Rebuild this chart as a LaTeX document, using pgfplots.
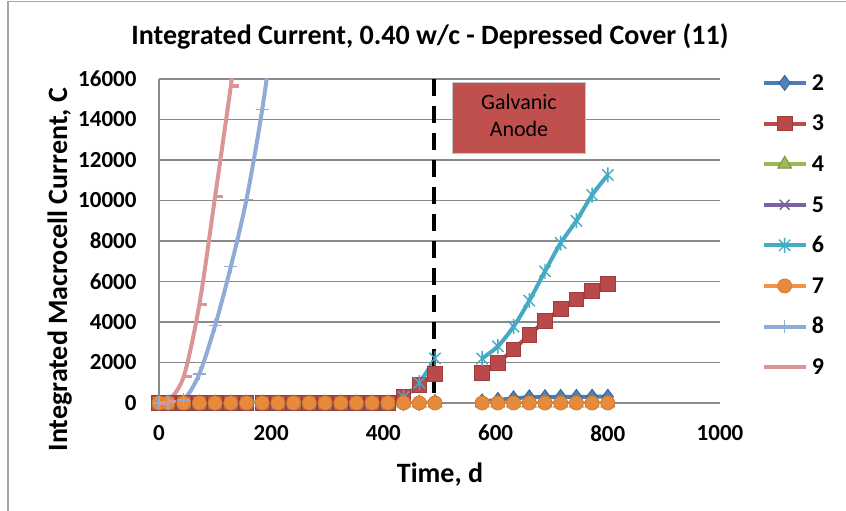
\documentclass[border=0pt]{standalone}
\usepackage{fontspec}
\setmainfont{Carlito}
\usepackage{pgfplots}
\pgfplotsset{compat=1.18}
\definecolor{gridgray}{HTML}{8A8A8A}
\definecolor{framegray}{HTML}{A6A6A6}
\definecolor{c2}{HTML}{4A7EBB}\definecolor{c2f}{HTML}{4F81BD}\definecolor{c2d}{HTML}{385D8A}
\definecolor{c3}{HTML}{BE4B48}\definecolor{c3f}{HTML}{B9494A}\definecolor{c3d}{HTML}{9A3D3B}
\definecolor{c4}{HTML}{98B954}\definecolor{c4f}{HTML}{9BBB59}\definecolor{c4d}{HTML}{71893F}
\definecolor{c5}{HTML}{7D60A0}
\definecolor{c6}{HTML}{46AAC5}
\definecolor{c7}{HTML}{F29447}\definecolor{c7f}{HTML}{E88A3C}\definecolor{c7d}{HTML}{D27C35}
\definecolor{c8}{HTML}{91ABD8}
\definecolor{c9}{HTML}{D99694}
\definecolor{anode}{HTML}{C0504D}
\pgfdeclareplotmark{rdash}{%
  \pgfpathmoveto{\pgfqpoint{0pt}{0pt}}%
  \pgfpathlineto{\pgfqpoint{2\pgfplotmarksize}{0pt}}%
  \pgfusepathqstroke}
\pgfdeclareplotmark{xstar}{%
  \pgfpathmoveto{\pgfqpoint{-.75\pgfplotmarksize}{-.75\pgfplotmarksize}}%
  \pgfpathlineto{\pgfqpoint{.75\pgfplotmarksize}{.75\pgfplotmarksize}}%
  \pgfpathmoveto{\pgfqpoint{-.75\pgfplotmarksize}{.75\pgfplotmarksize}}%
  \pgfpathlineto{\pgfqpoint{.75\pgfplotmarksize}{-.75\pgfplotmarksize}}%
  \pgfpathmoveto{\pgfqpoint{0pt}{-\pgfplotmarksize}}%
  \pgfpathlineto{\pgfqpoint{0pt}{\pgfplotmarksize}}%
  \pgfusepathqstroke}
\pgfplotsset{
  s2/.style={color=c2, line width=4pt, smooth, mark=diamond*, mark size=7.5pt, mark options={solid, fill=c2f, draw=c2d, line width=0.8pt}},
  s3/.style={color=c3, line width=4pt, smooth, mark=square*, mark size=7.3pt, mark options={solid, fill=c3f, draw=c3d, line width=0.8pt}},
  s4/.style={color=c4, line width=4pt, smooth, mark=triangle*, mark size=8pt, mark options={solid, fill=c4f, draw=c4d, line width=0.8pt}},
  s5/.style={color=c5, line width=4pt, smooth, mark=x, mark size=7pt, mark options={solid, draw=c5, line width=1.4pt}},
  s6/.style={color=c6, line width=4pt, smooth, mark=xstar, mark size=7.5pt, mark options={solid, draw=c6, line width=1.4pt}},
  s7/.style={color=c7, line width=4pt, smooth, mark=*, mark size=7pt, mark options={solid, fill=c7f, draw=c7d, line width=0.8pt}},
  s8/.style={color=c8, line width=4pt, smooth, mark=+, mark size=6.5pt, mark options={solid, draw=c8, line width=1.4pt}},
  s9/.style={color=c9, line width=4pt, smooth, mark=rdash, mark size=4pt, mark options={solid, draw=c9, line width=3.2pt}},
}
\begin{document}
\begin{tikzpicture}[x=1pt,y=1pt]
\useasboundingbox (0,0) rectangle (846,511);
\draw[framegray, line width=1.2pt] (8,0) -- (8,509.5) -- (846,509.5);
\begin{axis}[
  at={(159pt,108pt)}, anchor=south west, scale only axis,
  width=561pt, height=324pt,
  xmin=0, xmax=1000, ymin=0, ymax=16000,
  xtick={0,200,400,600,800,1000},
  ytick={0,2000,4000,6000,8000,10000,12000,14000,16000},
  scaled x ticks=false, scaled y ticks=false,
  /pgf/number format/.cd, 1000 sep={}, assume math mode=true, /pgfplots/.cd,
  axis x line*=bottom, axis y line*=left,
  axis line style={-, draw=gridgray, line width=1.2pt},
  major tick length=0pt, tick style={draw=none},
  ymajorgrids, grid style={draw=gridgray, line width=1.2pt},
  ticklabel style={font=\fontsize{23}{23}\selectfont\bfseries, inner sep=0pt},
  xticklabel style={anchor=north, yshift=-22pt},
  yticklabel style={anchor=east, xshift=-22.3pt},
  legend style={at={(axis description cs:1.0743,1.0154)}, anchor=north west,
    draw=none, fill=none, inner sep=0pt, row sep=20.6pt, column sep=0pt,
    font=\fontsize{24}{24}\selectfont\bfseries,
    nodes={inner xsep=4.5pt, inner ysep=0pt, text height=16pt, text depth=4pt, anchor=base west},
    cells={anchor=west}},
  legend image code/.code={\draw[mark repeat=2, mark phase=2, #1] plot coordinates {(0pt,7.3pt) (20.8pt,7.3pt) (41.6pt,7.3pt)};},
]
% series 2
\addplot[s2] coordinates {(0,0)(16,0)(44,0)(72,0)(100,0)(128,0)(156,0)(184,0)(212,0)(240,0)(268,0)(296,0)(324,0)(352,0)(380,0)(408,0)(436,0)(464,0)(492,40)};
\addlegendentry{2}
\addplot[s2, forget plot] coordinates {(576,80)(604,150)(632,230)(660,280)(688,290)(716,300)(744,300)(772,310)(800,310)};
% series 3
\addplot[s3] coordinates {(0,0)(16,0)(44,0)(72,0)(100,0)(128,0)(156,0)(184,0)(212,0)(240,0)(268,0)(296,0)(324,0)(352,0)(380,0)(408,0)(436,300)(464,900)(492,1450)};
\addlegendentry{3}
\addplot[s3, forget plot] coordinates {(576,1500)(604,1990)(632,2650)(660,3360)(688,4050)(716,4640)(744,5120)(772,5550)(800,5880)};
% series 4
\addplot[s4] coordinates {(0,0)(16,0)(44,0)(72,0)(100,0)(128,0)(156,0)(184,0)(212,0)(240,0)(268,0)(296,0)(324,0)(352,0)(380,0)(408,0)(436,0)(464,0)(492,0)};
\addlegendentry{4}
\addplot[s4, forget plot] coordinates {(576,0)(604,0)(632,0)(660,0)(688,0)(716,0)(744,0)(772,0)(800,0)};
% series 5
\addplot[s5] coordinates {(0,0)(16,0)(44,0)(72,0)(100,0)(128,0)(156,0)(184,0)(212,0)(240,0)(268,0)(296,0)(324,0)(352,0)(380,0)(408,0)(436,0)(464,0)(492,0)};
\addlegendentry{5}
\addplot[s5, forget plot] coordinates {(576,0)(604,0)(632,0)(660,0)(688,0)(716,0)(744,0)(772,0)(800,0)};
% series 6
\addplot[s6] coordinates {(0,0)(16,0)(44,0)(72,0)(100,0)(128,0)(156,0)(184,0)(212,0)(240,0)(268,0)(296,0)(324,0)(352,0)(380,0)(408,0)(436,300)(464,1000)(492,2200)};
\addlegendentry{6}
\addplot[s6, forget plot] coordinates {(576,2200)(604,2800)(632,3770)(660,5050)(688,6500)(716,7900)(744,9000)(772,10270)(800,11260)};
% series 7
\addplot[s7] coordinates {(0,0)(16,0)(44,0)(72,0)(100,0)(128,0)(156,0)(184,0)(212,0)(240,0)(268,0)(296,0)(324,0)(352,0)(380,0)(408,0)(436,0)(464,0)(492,0)};
\addlegendentry{7}
\addplot[s7, forget plot] coordinates {(576,0)(604,0)(632,0)(660,0)(688,0)(716,0)(744,0)(772,0)(800,0)};
% series 8
\addplot[s8] coordinates {(0,0)(16,20)(44,150)(72,1440)(100,3820)(128,6730)(156,10060)(184,14500)(212,20000)};
\addlegendentry{8}
% series 9
\addplot[s9] coordinates {(0,0)(16,80)(44,1300)(72,4870)(100,10190)(128,15650)(156,21500)};
\addlegendentry{9}
% galvanic anode marker line
\addplot[black, line width=4.5pt, dash pattern=on 17pt off 10pt, forget plot] coordinates {(490,16000)(490,0)};
\end{axis}
\node[draw=gray!45, line width=0.8pt, fill=anode, minimum width=133pt, minimum height=71pt, inner sep=0pt] at (519,392.7) {};
\node[font=\fontsize{22}{26.7}\selectfont, inner sep=0pt, anchor=base] at (519,401) {Galvanic};
\node[font=\fontsize{22}{26.7}\selectfont, inner sep=0pt, anchor=base] at (519,374.3) {Anode};
\node[font=\fontsize{28}{28}\selectfont\bfseries, anchor=base, inner sep=0pt] at (430,466) {Integrated Current, 0.40 w/c - Depressed Cover (11)};
\node[font=\fontsize{28}{28}\selectfont\bfseries, anchor=base, inner sep=0pt] at (440,28.3) {Time, d};
\node[font=\fontsize{28}{28}\selectfont\bfseries, anchor=base, inner sep=0pt, rotate=90] at (67,241.5) {Integrated Macrocell Current, C};
\end{tikzpicture}
\end{document}
